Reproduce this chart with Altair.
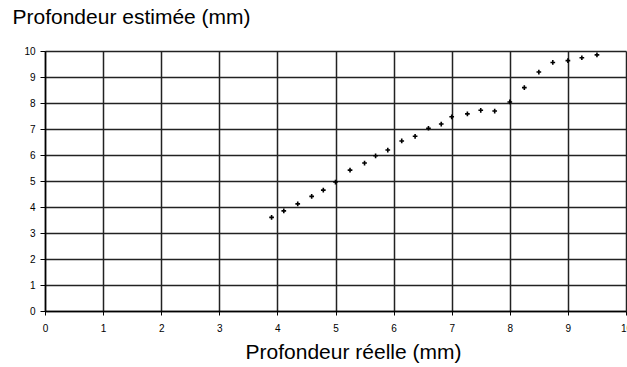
import altair as alt
import pandas as pd

reelle = [3.90, 4.11, 4.35, 4.59, 4.79, 5.00, 5.25, 5.50, 5.69, 5.90,
          6.14, 6.37, 6.60, 6.82, 7.00, 7.27, 7.50, 7.74, 8.00, 8.25,
          8.50, 8.74, 9.00, 9.24, 9.50]
estimee = [3.60, 3.85, 4.12, 4.41, 4.65, 4.96, 5.42, 5.69, 5.97, 6.19,
           6.54, 6.72, 7.03, 7.19, 7.47, 7.58, 7.72, 7.69, 8.04, 8.59,
           9.19, 9.56, 9.63, 9.74, 9.85]
ticks = list(range(0, 11))

df = pd.DataFrame({"reelle": reelle, "estimee": estimee})

FONT = "Liberation Sans"

chart = alt.Chart(df).mark_point(
    shape="M-1,0L1,0M0,-1L0,1", size=22, filled=False, color="black",
    strokeWidth=1.6, opacity=1
).encode(
    x=alt.X("reelle:Q",
            scale=alt.Scale(domain=[0, 10], nice=False, zero=False),
            axis=alt.Axis(values=ticks, format="d", title="Profondeur réelle (mm)",
                          grid=True, gridColor="#222", gridWidth=1.5, gridOpacity=1,
                          domainColor="black", domainWidth=1.5,
                          tickColor="black", tickSize=4, tickWidth=1,
                          labelFont=FONT, labelFontSize=10, labelColor="black",
                          labelPadding=8, labelFlush=False,
                          titleFont=FONT, titleFontSize=21, titleFontWeight="normal",
                          titleColor="black", titleX=308, titleY=47,
                          titleBaseline="alphabetic")),
    y=alt.Y("estimee:Q",
            scale=alt.Scale(domain=[0, 10], nice=False, zero=False),
            axis=alt.Axis(values=ticks, format="d", title="Profondeur estimée (mm)",
                          grid=True, gridColor="#222", gridWidth=1.5, gridOpacity=1,
                          domainColor="black", domainWidth=1.5,
                          tickColor="black", tickSize=5, tickWidth=1,
                          labelFont=FONT, labelFontSize=10, labelColor="black",
                          labelPadding=5,
                          titleFont=FONT, titleFontSize=21, titleFontWeight="normal",
                          titleColor="black", titleAngle=0, titleAlign="left",
                          titleBaseline="alphabetic", titleX=-33, titleY=-28)),
).properties(
    width=581, height=260,
    autosize=alt.AutoSizeParams(type="none"),
    padding={"left": 45, "top": 51, "right": 1, "bottom": 56},
).configure_view(
    stroke="#999", strokeWidth=1.5
).configure(background="white")

chart.save("out.html", embed_options={"renderer": "svg", "actions": False})
